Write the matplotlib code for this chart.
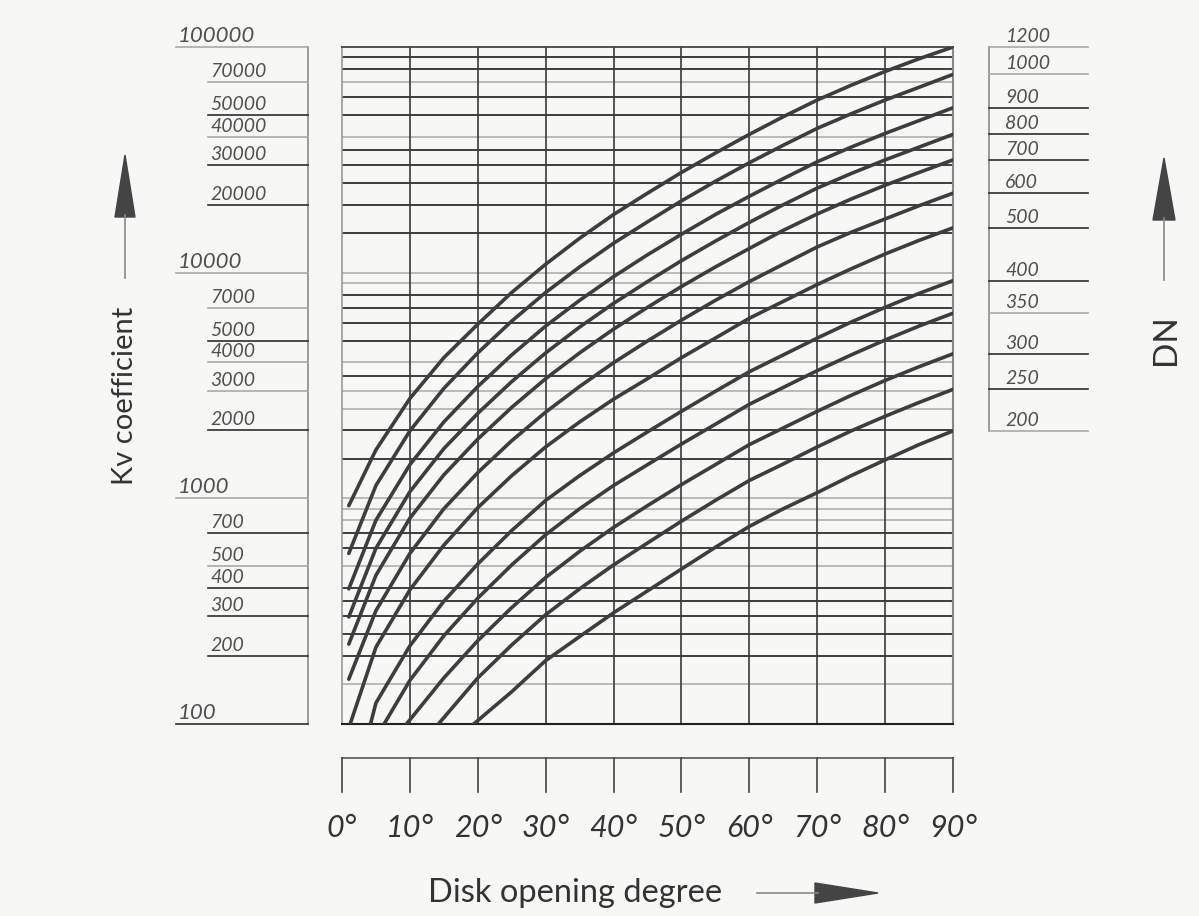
import matplotlib
matplotlib.use("Agg")
import matplotlib.pyplot as plt
from matplotlib.transforms import blended_transform_factory, offset_copy
from matplotlib.patches import Polygon

plt.rcParams['font.family'] = ['Lato', 'DejaVu Sans']

# Kv for each DN curve (curve starts at left edge or at Kv=100)
deg_full = [1, 5, 10, 15, 20, 25, 30, 35, 40, 45, 50, 55, 60, 65, 70, 75, 80, 85, 90]
kv_dn1200 = [928, 1640, 2770, 4200, 5910, 8170, 10900, 14200, 18100, 22500,
             27800, 33900, 41000, 49100, 58200, 67700, 77900, 88700, 100000]
kv_dn1000 = [570, 1140, 1990, 3070, 4410, 6100, 8170, 10600, 13500, 16800,
             20800, 25400, 30700, 36700, 43600, 50600, 58200, 66300, 75600]
kv_dn900 = [397, 800, 1410, 2180, 3130, 4320, 5800, 7540, 9600, 12000,
            14800, 18100, 21800, 26100, 31000, 36000, 41400, 47200, 53800]
kv_dn800 = [298, 601, 1070, 1660, 2380, 3290, 4410, 5740, 7310, 9130,
            11300, 13800, 16700, 20000, 23700, 27500, 31600, 36000, 41000]
kv_dn700 = [226, 456, 817, 1270, 1830, 2530, 3390, 4410, 5620, 7020,
            8680, 10600, 12800, 15400, 18200, 21200, 24400, 27800, 31600]
kv_dn600 = [158, 318, 570, 899, 1300, 1800, 2410, 3130, 3990, 4980,
            6160, 7540, 9130, 10900, 13000, 15100, 17300, 19800, 22500]

deg_dn500 = [1.2, 5, 10, 15, 20, 25, 30, 35, 40, 45, 50, 55, 60, 65, 70, 75, 80, 85, 90]
kv_dn500 = [100, 219, 393, 620, 909, 1260, 1690, 2180, 2750, 3390,
            4200, 5130, 6280, 7460, 8860, 10400, 12100, 13900, 15800]
deg_dn400 = [4.2, 5, 10, 15, 20, 25, 30, 35, 40, 45, 50, 55, 60, 65, 70, 75, 80, 85, 90]
kv_dn400 = [100, 124, 222, 350, 512, 720, 979, 1260, 1590, 1970,
            2430, 2980, 3640, 4320, 5130, 6040, 7020, 8090, 9220]
deg_dn350 = [6.2, 10, 15, 20, 25, 30, 35, 40, 45, 50, 55, 60, 65, 70, 75, 80, 85, 90]
kv_dn350 = [100, 156, 246, 361, 507, 690, 899, 1140, 1410,
            1740, 2130, 2610, 3100, 3680, 4320, 5030, 5800, 6610]
deg_dn300 = [9.5, 15, 20, 25, 30, 35, 40, 45, 50, 55, 60, 65, 70, 75, 80, 85, 90]
kv_dn300 = [100, 160, 234, 328, 446, 582, 743, 928, 1150,
            1410, 1730, 2050, 2430, 2860, 3330, 3830, 4370]
deg_dn250 = [14.2, 20, 25, 30, 35, 40, 45, 50, 55, 60, 65, 70, 75, 80, 85, 90]
kv_dn250 = [100, 160, 224, 305, 397, 507, 634, 792, 979,
            1200, 1420, 1690, 1990, 2310, 2660, 3040]
deg_dn200 = [19.4, 25, 30, 35, 40, 45, 50, 55, 60, 65, 70, 75, 80, 85, 90]
kv_dn200 = [100, 139, 191, 244, 311, 389, 486, 607, 751,
            899, 1060, 1260, 1480, 1730, 1990]

dn_labels = ["1200", "1000", "900", "800", "700", "600", "500", "400", "350", "300", "250", "200"]

kv_ticks = [100000, 70000, 50000, 40000, 30000, 20000, 10000, 7000, 5000, 4000,
            3000, 2000, 1000, 700, 500, 400, 300, 200, 100]
kv_decades = [100000, 10000, 1000, 100]
kv_grid = [150, 200, 250, 300, 350, 400, 500, 600, 700, 800, 900, 1000,
           1500, 2000, 2500, 3000, 3500, 4000, 5000, 6000, 7000, 8000, 9000, 10000,
           15000, 20000, 25000, 30000, 35000, 40000, 50000, 60000, 70000, 80000, 90000]
kv_grid_light = [150, 500, 800, 900, 1000, 2500, 3000, 4000, 9000, 10000, 40000, 70000]
kv_tick_light = [100000, 70000, 40000, 10000, 7000, 4000, 3000, 1000, 500]

deg_ticks = [0, 10, 20, 30, 40, 50, 60, 70, 80, 90]
deg_labels = ["0°", "10°", "20°", "30°", "40°", "50°", "60°", "70°", "80°", "90°"]

curves = [
    (deg_full, kv_dn1200), (deg_full, kv_dn1000), (deg_full, kv_dn900),
    (deg_full, kv_dn800), (deg_full, kv_dn700), (deg_full, kv_dn600),
    (deg_dn500, kv_dn500), (deg_dn400, kv_dn400), (deg_dn350, kv_dn350),
    (deg_dn300, kv_dn300), (deg_dn250, kv_dn250), (deg_dn200, kv_dn200),
]
dn_light = ["1200", "1000", "350", "200"]

W, H = 1199, 916
BG = '#f7f7f5'
DARK = '#2e2e2e'
LIGHT = '#a9a9a9'
TXT = '#505050'


def fx(px):
    return px / W


def fy(px):
    return 1 - px / H


fig = plt.figure(figsize=(W / 100, H / 100), dpi=100, facecolor=BG)
ax = fig.add_axes([fx(342), fy(724), (953 - 342) / W, (724 - 47) / H])
ax.set_facecolor(BG)
ax.set_yscale('log')
ax.set_xlim(0, 90)
ax.set_ylim(100, 100000)
ax.tick_params(which='both', left=False, bottom=False, labelleft=False, labelbottom=False)
for side, col, lw in [('top', '#444444', 1.3), ('bottom', '#222222', 1.5),
                      ('left', '#999999', 1.2), ('right', '#888888', 1.5)]:
    ax.spines[side].set_color(col)
    ax.spines[side].set_linewidth(lw)

# grid
for v in kv_grid:
    light = v in kv_grid_light
    ax.axhline(v, color=LIGHT if light else DARK, lw=1.1 if light else 1.3, zorder=1)
for d in deg_ticks[1:-1]:
    ax.axvline(d, color='#3a3a3a', lw=1.2, zorder=1)

# curves
for deg, kv in curves:
    ax.plot(deg, kv, color='#3d3d3d', lw=2.6, solid_capstyle='round',
            solid_joinstyle='round', zorder=3)

# left Kv scale
tl = blended_transform_factory(fig.transFigure, ax.transData)
tl_txt = offset_copy(tl, fig=fig, y=5, units='dots')
ax.plot([fx(308), fx(308)], [100, 100000], transform=tl, clip_on=False, color='#8a8a8a', lw=1.2)
for v in kv_ticks:
    big = v in kv_decades
    x0 = 176 if big else 208
    ax.plot([fx(x0), fx(308)], [v, v], transform=tl, clip_on=False,
            color=LIGHT if v in kv_tick_light else DARK, lw=1.2)
    ax.text(fx(x0 + 2), v, str(v), transform=tl_txt, va='baseline', ha='left',
            fontsize=16 if big else 14, style='italic', color=TXT)

# right DN scale, ticks at each curve's Kv at 90 deg
dn_kv = [kv[-1] for deg, kv in curves]
ax.plot([fx(989), fx(989)], [min(dn_kv), max(dn_kv)], transform=tl, clip_on=False,
        color='#8a8a8a', lw=1.2)
for v, lab in zip(dn_kv, dn_labels):
    ax.plot([fx(989), fx(1088)], [v, v], transform=tl, clip_on=False,
            color=LIGHT if lab in dn_light else DARK, lw=1.2)
    ax.text(fx(1005), v, lab, transform=tl_txt, va='baseline', ha='left',
            fontsize=14, style='italic', color=TXT)

# bottom degree ruler
tb = blended_transform_factory(ax.transData, fig.transFigure)
ax.plot([0, 90], [fy(758), fy(758)], transform=tb, clip_on=False, color='#555555', lw=1.2)
for d, lab in zip(deg_ticks, deg_labels):
    ax.plot([d, d], [fy(758), fy(792)], transform=tb, clip_on=False, color='#444444', lw=1.2)
    ax.text(d, fy(828), lab, transform=tb, ha='center', va='center',
            fontsize=22, style='italic', color='#333333')

# axis titles and arrows
fig.text(fx(575), fy(893), 'Disk opening degree', ha='center', va='center',
         fontsize=23.5, color='#333333')
fig.text(fx(125), fy(396), 'Kv coefficient', rotation=90, ha='center', va='center',
         fontsize=21, color='#333333')
fig.text(fx(1166), fy(340), 'DN', rotation=90, ha='center', va='center',
         fontsize=24, color='#333333')

arrow_col = '#444444'
fig.add_artist(plt.Line2D([fx(125), fx(125)], [fy(278), fy(215)], color='#888888', lw=1.2))
fig.add_artist(Polygon([[fx(115), fy(217)], [fx(135), fy(217)], [fx(125), fy(155)]],
                       closed=True, transform=fig.transFigure, color=arrow_col))
fig.add_artist(plt.Line2D([fx(1164), fx(1164)], [fy(280), fy(218)], color='#888888', lw=1.2))
fig.add_artist(Polygon([[fx(1153), fy(220)], [fx(1175), fy(220)], [fx(1164), fy(158)]],
                       closed=True, transform=fig.transFigure, color=arrow_col))
fig.add_artist(plt.Line2D([fx(757), fx(818)], [fy(893), fy(893)], color='#888888', lw=1.2))
fig.add_artist(Polygon([[fx(815), fy(883)], [fx(815), fy(903)], [fx(878), fy(893)]],
                       closed=True, transform=fig.transFigure, color=arrow_col))

fig.savefig('out.png', dpi=100, facecolor=BG)
